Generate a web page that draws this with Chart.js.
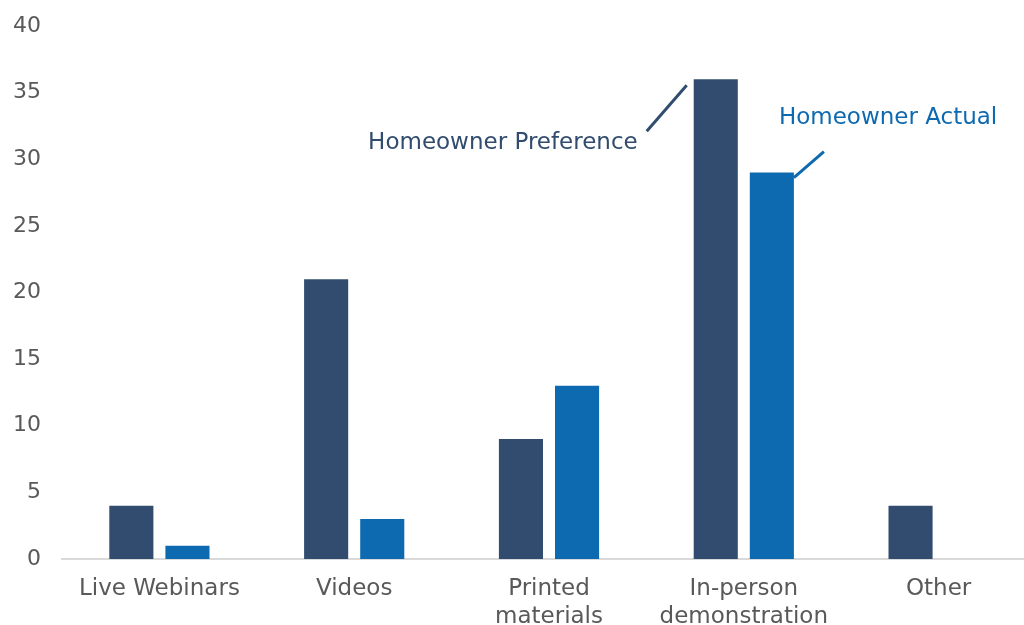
<!DOCTYPE html>
<html>
<head>
<meta charset="utf-8">
<script src="https://cdn.jsdelivr.net/npm/chart.js@4/dist/chart.umd.min.js"></script>
<style>
  html, body { margin: 0; padding: 0; background: #fff; overflow: hidden; }
  #wrap { width: 1036px; height: 625px; position: relative; }
</style>
</head>
<body>
<div id="wrap"><canvas id="c"></canvas></div>
<script>
// Survey: how homeowners prefer to learn vs. how they actually learned
const categories = ['Live Webinars', 'Videos', ['Printed', 'materials'], ['In-person', 'demonstration'], 'Other'];
const preference = [4, 21, 9, 36, 4];
const actual = [1, 3, 13, 29, 0];
const seriesNames = ['Homeowner Preference', 'Homeowner Actual'];
const yMin = 0, yMax = 40, yStep = 5;

const DARK = '#314c6e';
const BLUE = '#0e6ab0';
const FONT = '"DejaVu Sans", Verdana, sans-serif';

// Callout labels with leader lines next to the In-person bars
const calloutPlugin = {
  id: 'callouts',
  afterDatasetsDraw(chart) {
    const ctx = chart.ctx;
    const b0 = chart.getDatasetMeta(0).data[3];
    const b1 = chart.getDatasetMeta(1).data[3];
    ctx.save();
    ctx.font = '23px ' + FONT;
    ctx.textBaseline = 'middle';
    ctx.lineWidth = 3;

    const left0 = b0.x - b0.width / 2;
    ctx.strokeStyle = DARK;
    ctx.fillStyle = DARK;
    ctx.beginPath();
    ctx.moveTo(left0 - 47, b0.y + 52);
    ctx.lineTo(left0 - 7, b0.y + 6);
    ctx.stroke();
    ctx.textAlign = 'right';
    ctx.fillText(seriesNames[0], left0 - 56, b0.y + 64);

    const right1 = b1.x + b1.width / 2;
    ctx.strokeStyle = BLUE;
    ctx.fillStyle = BLUE;
    ctx.beginPath();
    ctx.moveTo(right1, b1.y + 5);
    ctx.lineTo(right1 + 30, b1.y - 21);
    ctx.stroke();
    ctx.textAlign = 'left';
    ctx.fillText(seriesNames[1], right1 - 15, b1.y - 55);
    ctx.restore();
  }
};

new Chart(document.getElementById('c'), {
  type: 'bar',
  data: {
    labels: categories,
    datasets: [
      { label: seriesNames[0], data: preference, backgroundColor: DARK },
      { label: seriesNames[1], data: actual, backgroundColor: BLUE }
    ]
  },
  options: {
    responsive: true,
    maintainAspectRatio: false,
    animation: false,
    datasets: { bar: { categoryPercentage: 0.576, barPercentage: 0.786 } },
    layout: { padding: { top: 26, left: 0, right: 0, bottom: 0 } },
    plugins: {
      legend: { display: false },
      tooltip: { enabled: false }
    },
    scales: {
      x: {
        grid: { display: false, drawTicks: false },
        border: { display: true, color: '#d9d9d9', width: 2 },
        ticks: {
          color: '#595959',
          font: { family: FONT, size: 23, lineHeight: 1.22 },
          padding: 16,
          maxRotation: 0,
          autoSkip: false
        },
        afterFit(scale) {
          scale.height = 66;
          scale.paddingLeft = 0;
          scale.paddingRight = 0;
        }
      },
      y: {
        min: yMin,
        max: yMax,
        grid: { display: false, drawTicks: false },
        border: { display: false },
        ticks: {
          stepSize: yStep,
          color: '#595959',
          font: { family: FONT, size: 22 },
          padding: 21
        },
        afterFit(scale) {
          scale.width = 62;
          scale.paddingTop = 0;
          scale.paddingBottom = 0;
        }
      }
    }
  },
  plugins: [calloutPlugin]
});
</script>
</body>
</html>
